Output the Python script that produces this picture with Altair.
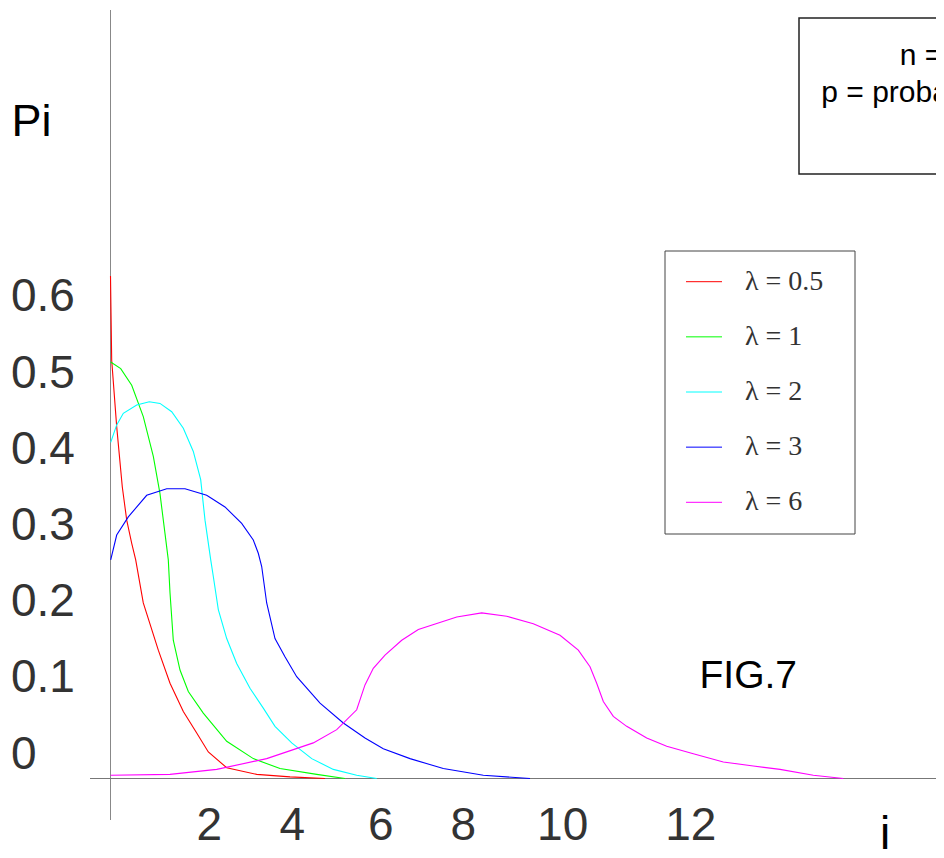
import altair as alt
import pandas as pd

# ---------------- data ----------------
series = ["λ = 0.5", "λ = 1", "λ = 2", "λ = 3", "λ = 6"]
colors = ["#ff0000", "#00ff00", "#00ffff", "#0000ff", "#ff00ff"]

red_i = [0.0, 0.025, 0.129, 0.246, 0.338, 0.442, 0.525, 0.683, 0.996, 1.240, 1.517, 1.796, 2.038, 2.421, 3.046, 3.740, 4.469]
red_p = [0.607, 0.505, 0.425, 0.352, 0.312, 0.284, 0.264, 0.212, 0.155, 0.115, 0.081, 0.055, 0.032, 0.013, 0.005, 0.002, 0.0]

green_i = [0.004, 0.213, 0.442, 0.683, 0.892, 1.031, 1.135, 1.204, 1.240, 1.308, 1.448, 1.621, 1.933, 2.421, 2.975, 3.531, 4.296, 4.885]
green_p = [0.503, 0.495, 0.475, 0.437, 0.389, 0.344, 0.296, 0.264, 0.224, 0.167, 0.131, 0.105, 0.079, 0.045, 0.024, 0.012, 0.005, 0.0]

cyan_i = [0.004, 0.129, 0.267, 0.546, 0.808, 1.031, 1.275, 1.517, 1.725, 1.879, 1.969, 2.088, 2.142, 2.246, 2.421, 2.629, 2.906, 3.183, 3.427, 3.775, 4.192, 4.642, 5.129, 5.546]
cyan_p = [0.406, 0.427, 0.441, 0.451, 0.455, 0.453, 0.443, 0.423, 0.395, 0.361, 0.312, 0.264, 0.244, 0.204, 0.169, 0.139, 0.109, 0.085, 0.063, 0.043, 0.024, 0.011, 0.004, 0.0]

blue_i = [0.004, 0.129, 0.371, 0.754, 1.171, 1.552, 2.004, 2.385, 2.733, 2.975, 3.079, 3.150, 3.254, 3.427, 3.635, 3.879, 4.365, 4.850, 5.302, 5.683, 6.240, 6.933, 7.767, 8.740]
blue_p = [0.264, 0.294, 0.316, 0.342, 0.350, 0.350, 0.342, 0.328, 0.308, 0.288, 0.272, 0.256, 0.212, 0.169, 0.147, 0.123, 0.091, 0.067, 0.049, 0.036, 0.024, 0.012, 0.004, 0.0]

magenta_i = [0.004, 1.240, 2.213, 3.254, 4.225, 4.713, 5.129, 5.302, 5.475, 5.719, 6.067, 6.413, 7.213, 7.733, 8.254, 8.808, 9.365, 9.746, 9.990, 10.129, 10.267, 10.475, 10.754, 11.171, 11.588, 12.142, 12.767, 13.392, 13.948, 14.642, 15.267]
magenta_p = [0.004, 0.005, 0.011, 0.024, 0.043, 0.059, 0.083, 0.113, 0.133, 0.149, 0.167, 0.180, 0.195, 0.200, 0.196, 0.187, 0.173, 0.155, 0.135, 0.115, 0.093, 0.075, 0.063, 0.049, 0.039, 0.030, 0.020, 0.015, 0.011, 0.004, 0.0]

x_tick_labels = ["2", "4", "6", "8", "10", "12"]
x_tick_at = [2.06, 3.79, 5.63, 7.35, 9.42, 12.09]

y_ticks = [0.0, 0.1, 0.2, 0.3, 0.4, 0.5, 0.6]
y_tick_labels = ["0", "0.1", "0.2", "0.3", "0.4", "0.5", "0.6"]

# ---------------- layout ----------------
W, H = 928, 842
PX_X = 48.0          # pixels per unit of i
PX_Y = 828.0         # pixels per unit of Pi
X0, Y0 = 102.5, 770.5  # chart-pixel position of the origin

xs = alt.Scale(domain=[-X0 / PX_X, (W - X0) / PX_X], nice=False, zero=False)
ys = alt.Scale(domain=[(Y0 - H) / PX_Y, Y0 / PX_Y], nice=False, zero=False)

rows = []
for name, xi, pi in zip(series, [red_i, green_i, cyan_i, blue_i, magenta_i],
                        [red_p, green_p, cyan_p, blue_p, magenta_p]):
    for k, (a, b) in enumerate(zip(xi, pi)):
        rows.append({"series": name, "i": a, "p": b, "k": k})
df = pd.DataFrame(rows)
cscale = alt.Scale(domain=series, range=colors)

curves = alt.Chart(df).mark_line(strokeWidth=1.1, clip=True).encode(
    x=alt.X("i:Q", scale=xs, axis=None),
    y=alt.Y("p:Q", scale=ys, axis=None),
    color=alt.Color("series:N", scale=cscale, legend=None),
    order="k:Q",
)


def px_x(p):
    return (p - X0) / PX_X


def px_y(p):
    return (Y0 - p) / PX_Y


# axis lines
vline = alt.Chart(pd.DataFrame({"x": [0.0], "y": [px_y(2)], "y2": [px_y(812)]})).mark_rule(
    color="#888", strokeWidth=1).encode(
    x=alt.X("x:Q", scale=xs, axis=None), y=alt.Y("y:Q", scale=ys, axis=None), y2="y2:Q")
hline = alt.Chart(pd.DataFrame({"y": [0.0], "x": [px_x(82)], "x2": [px_x(W)]})).mark_rule(
    color="#777", strokeWidth=1.2).encode(
    x=alt.X("x:Q", scale=xs, axis=None), x2="x2:Q", y=alt.Y("y:Q", scale=ys, axis=None))

# legend box and entries
legbox = alt.Chart(pd.DataFrame({"x": [px_x(657)], "x2": [px_x(847)], "y": [px_y(243)], "y2": [px_y(526)]})).mark_rect(
    fill="white", stroke="#444", strokeWidth=1).encode(
    x=alt.X("x:Q", scale=xs, axis=None), x2="x2:Q", y=alt.Y("y:Q", scale=ys, axis=None), y2="y2:Q")

leg_df = pd.DataFrame({
    "series": series,
    "ly": [px_y(273.7 + 55.15 * n) for n in range(len(series))],
    "lx": [px_x(678)] * len(series),
    "lx2": [px_x(714)] * len(series),
    "tx": [px_x(737)] * len(series),
})
leglines = alt.Chart(leg_df).mark_rule(strokeWidth=1).encode(
    x=alt.X("lx:Q", scale=xs, axis=None), x2="lx2:Q",
    y=alt.Y("ly:Q", scale=ys, axis=None),
    color=alt.Color("series:N", scale=cscale, legend=None))
legtext = alt.Chart(leg_df).mark_text(align="left", baseline="middle", font="Liberation Serif",
                                      fontSize=28, color="#333").encode(
    x=alt.X("tx:Q", scale=xs, axis=None), y=alt.Y("ly:Q", scale=ys, axis=None), text="series:N")

# top-right info box
infobox = alt.Chart(pd.DataFrame({"x": [px_x(791)], "x2": [px_x(W + 20)], "y": [px_y(10)], "y2": [px_y(166)]})).mark_rect(
    fill="white", stroke="#222", strokeWidth=1.5).encode(
    x=alt.X("x:Q", scale=xs, axis=None), x2="x2:Q", y=alt.Y("y:Q", scale=ys, axis=None), y2="y2:Q")


def note(s, x, y, size, color="#000", align="left", font="Liberation Sans"):
    return alt.Chart(pd.DataFrame({"t": [s]})).mark_text(
        align=align, baseline="alphabetic", fontSize=size, font=font, color=color).encode(
        x=alt.value(x), y=alt.value(y), text="t:N")


notes = [
    note("n = 20", 891.7, 57, 30),
    note("p = probability of success", 813.3, 93.7, 30),
    note("Pi", 3.5, 128, 45),
    note("FIG.7", 691.5, 680, 39),
    note("i", 877, 841, 46, align="center"),
]

xlab = alt.Chart(pd.DataFrame({"t": x_tick_labels, "x": x_tick_at})).mark_text(
    align="center", baseline="alphabetic", fontSize=46, font="Liberation Sans", color="#333").encode(
    x=alt.X("x:Q", scale=xs, axis=None), y=alt.value(832), text="t:N")

main = alt.layer(infobox, legbox, vline, hline, curves, leglines, legtext, xlab, *notes)

# y tick labels on their own scale (they sit slightly apart from the data scale in the original)
ylab_scale = alt.Scale(domain=[(746.5 - H) / 761.7, 746.5 / 761.7], nice=False, zero=False)
ylab = alt.Chart(pd.DataFrame({"v": y_ticks, "t": y_tick_labels})).mark_text(
    align="left", baseline="middle", fontSize=46, font="Liberation Sans", color="#333").encode(
    x=alt.value(3), y=alt.Y("v:Q", scale=ylab_scale, axis=None), text="t:N")

chart = alt.layer(main, ylab).resolve_scale(y="independent").properties(
    width=W, height=H, padding=0, autosize=alt.AutoSizeParams(type="none"),
    background="white",
).configure_view(stroke=None)

chart.save("out.html", embed_options={"renderer": "svg", "actions": False})
